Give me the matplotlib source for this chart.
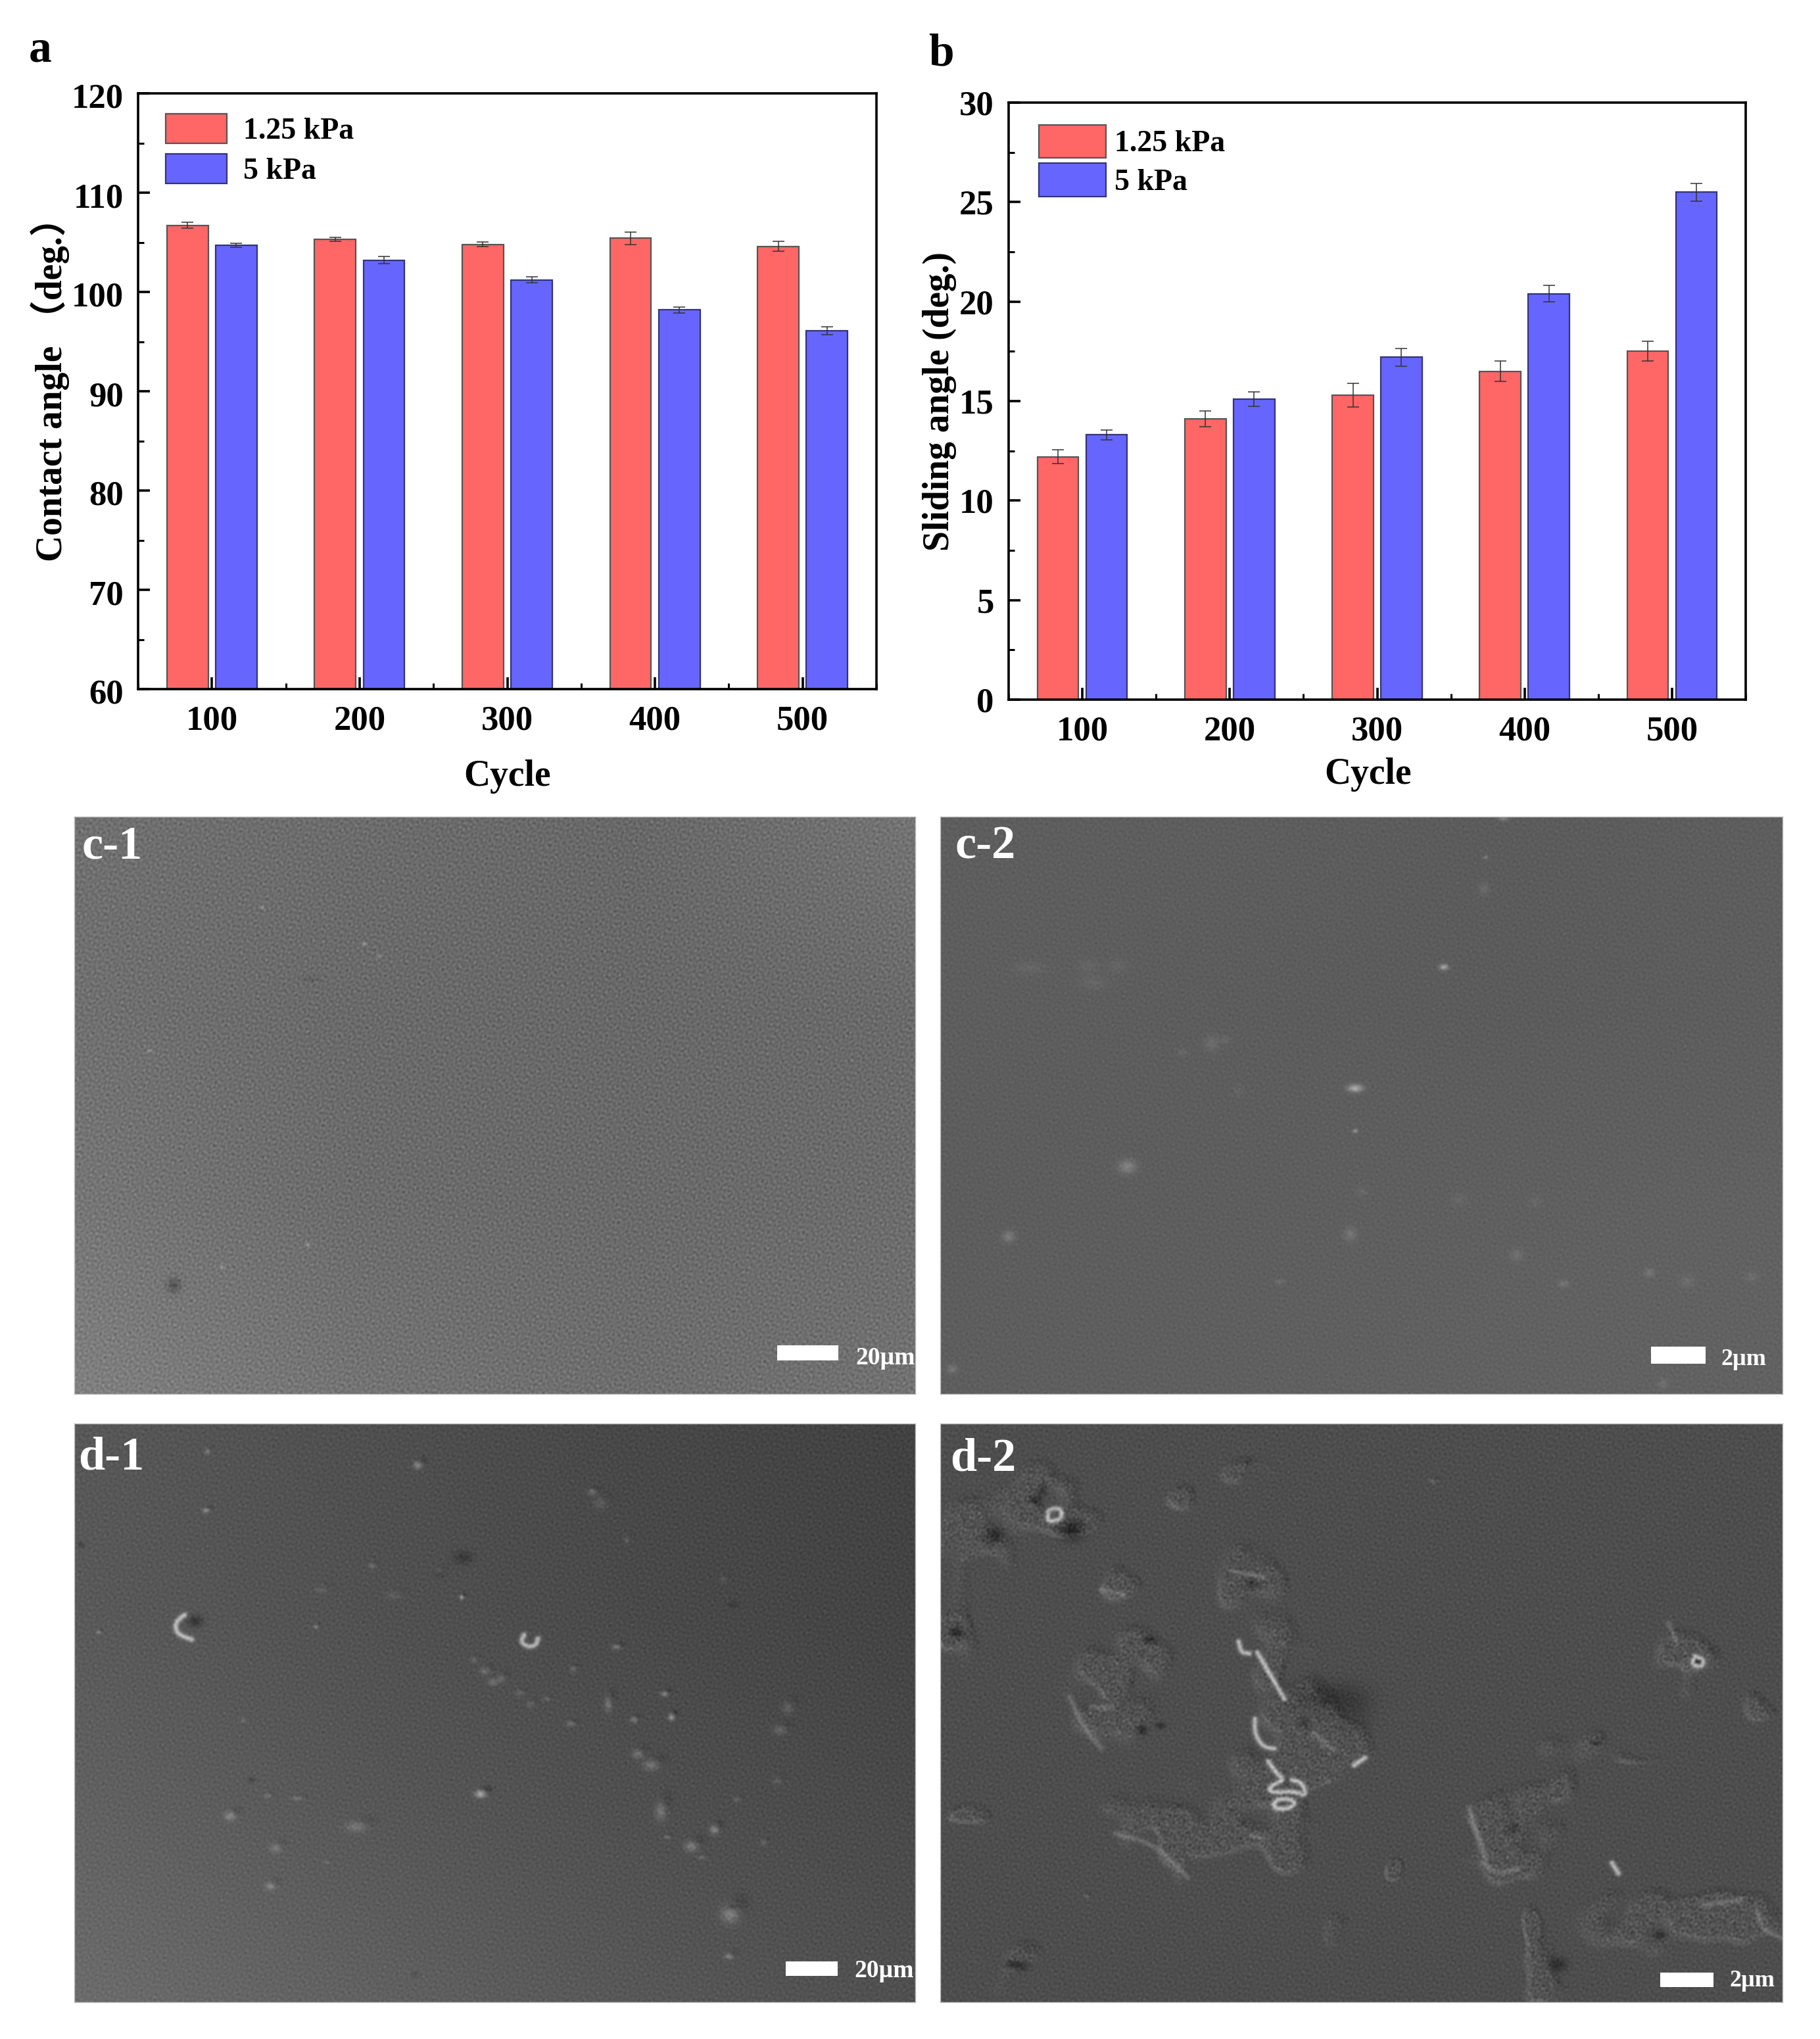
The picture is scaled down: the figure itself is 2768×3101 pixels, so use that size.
import numpy as np
import matplotlib
matplotlib.use("Agg")
import matplotlib.pyplot as plt
from matplotlib.patches import Rectangle
from matplotlib.ticker import MultipleLocator
from matplotlib.transforms import ScaledTranslation

plt.rcParams['font.family'] = ['Liberation Serif', 'Noto Sans CJK SC']
plt.rcParams['font.weight'] = 'bold'

W, H = 2768, 3101

cycles = ['100', '200', '300', '400', '500']
series_names = ['1.25 kPa', '5 kPa']

contact_low = [106.7, 105.3, 104.8, 105.4, 104.6]
contact_low_err = [0.3, 0.2, 0.25, 0.6, 0.5]
contact_high = [104.7, 103.2, 101.2, 98.2, 96.1]
contact_high_err = [0.2, 0.35, 0.3, 0.3, 0.4]

sliding_low = [12.2, 14.1, 15.3, 16.5, 17.5]
sliding_low_err = [0.35, 0.4, 0.6, 0.5, 0.5]
sliding_high = [13.3, 15.1, 17.2, 20.4, 25.5]
sliding_high_err = [0.25, 0.35, 0.45, 0.4, 0.45]

# grey levels of the micrographs, read on a coarse grid (rows top to bottom)
shade_c1 = [[112, 108, 104, 116], [112, 106, 104, 106], [118, 108, 106, 108], [128, 116, 110, 114]]
shade_c2 = [[94, 94, 92, 94], [94, 93, 92, 94], [93, 94, 96, 98], [94, 96, 98, 98]]
shade_d1 = [[88, 80, 72, 66], [90, 82, 74, 68], [98, 88, 80, 74], [108, 98, 88, 80]]
shade_d2 = [[78, 78, 78, 78], [78, 78, 78, 78], [78, 78, 78, 78], [78, 78, 78, 78]]

# soft spots on the micrographs, x, y, sx, sy, brightness, in crop units 0-1568
spots_c1 = [(185, 1272, 9, 14, -34), (540, 345, 3, 3, 50), (568, 378, 3, 3, 35), (435, 1162, 3, 3, 45),
            (440, 440, 12, 5, -12), (140, 635, 3, 3, 35), (275, 1222, 3, 3, 40), (350, 245, 3, 3, 35)]
spots_c2 = [(165, 410, 25, 14, 9), (285, 450, 22, 16, 9), (275, 405, 16, 16, 8), (330, 405, 16, 16, 8),
            (937, 408, 7, 7, 70), (772, 737, 12, 9, 75), (772, 853, 4, 5, 50), (348, 950, 14, 16, 36),
            (127, 1140, 10, 13, 30), (763, 1133, 10, 16, 22), (505, 615, 12, 18, 16), (530, 605, 8, 8, 12),
            (450, 640, 8, 8, 12), (1012, 195, 8, 14, 15), (1015, 110, 4, 4, 35), (1073, 1190, 10, 14, 16),
            (1320, 1238, 8, 10, 22), (1160, 1268, 9, 8, 20), (1390, 1262, 12, 14, 12), (1510, 1250, 10, 12, 12),
            (22, 1500, 8, 10, 25), (632, 1263, 8, 6, 16), (1048, 4, 8, 6, 35), (785, 1018, 9, 10, 10),
            (965, 1040, 12, 14, 8), (1107, 1045, 10, 12, 8), (1345, 1540, 8, 12, 14), (555, 745, 8, 14, 7)]
spots_d1 = [(725, 362, 18, 18, -14), (225, 535, 14, 16, -22), (640, 112, 8, 10, 35), (245, 235, 6, 7, 35),
            (248, 75, 5, 8, 25), (965, 185, 8, 8, 24), (980, 215, 12, 16, 12), (12, 328, 7, 8, -14),
            (680, 405, 10, 10, -12), (722, 470, 4, 6, 50), (555, 385, 6, 8, 18), (450, 550, 5, 6, 25),
            (45, 565, 4, 5, 30), (745, 640, 7, 7, 16), (765, 670, 9, 10, 20), (780, 700, 9, 9, 22), (795, 690, 8, 10, 22),
            (830, 730, 8, 8, 14), (850, 760, 7, 9, 14), (880, 745, 7, 6, 16),
            (995, 760, 7, 20, 24), (1100, 732, 7, 7, 35), (1113, 795, 6, 9, 45), (1043, 802, 7, 8, 28),
            (925, 813, 8, 6, 25), (1315, 830, 12, 12, 18), (1330, 770, 10, 16, 15), (1050, 895, 10, 12, 24), (1075, 925, 14, 14, 24),
            (757, 1003, 10, 10, 55), (1093, 1050, 10, 24, 24), (1150, 1145, 12, 14, 28), (1193, 1100, 8, 12, 34),
            (1105, 1120, 6, 6, 18), (1170, 1175, 8, 6, 16), (1285, 1135, 6, 7, 16), (290, 1063, 10, 12, 28), (525, 1092, 18, 14, 20), (375, 1150, 10, 12, 20),
            (365, 1253, 9, 10, 26), (1222, 1328, 16, 24, 30), (1225, 1310, 10, 8, -16), (1220, 1443, 8, 8, 28),
            (1010, 605, 8, 7, 28), (930, 665, 6, 8, 18), (680, 400, 8, 8, 14), (1030, 315, 5, 10, 14),
            (595, 465, 14, 10, 10), (460, 450, 12, 9, 10), (1210, 422, 7, 9, 10), (1228, 490, 9, 9, -9),
            (415, 1015, 10, 6, 18), (360, 1008, 6, 7, 16), (330, 965, 7, 7, -14), (315, 803, 6, 6, 14),
            (470, 1188, 6, 4, 14), (635, 1492, 6, 8, -10), (1310, 968, 8, 10, 12), (1235, 1018, 6, 7, 16)]
# debris patches of panel d-2, x, y, sx, sy
lumps_d2 = [(170, 170, 70, 60), (60, 300, 70, 90), (240, 260, 45, 35), (320, 430, 40, 40),
            (575, 135, 50, 35), (450, 205, 30, 30), (585, 410, 70, 80), (350, 620, 60, 70),
            (320, 770, 70, 100), (640, 650, 50, 80), (700, 850, 90, 90), (600, 1000, 90, 70),
            (730, 830, 40, 40), (390, 1080, 70, 60), (510, 1120, 80, 40), (650, 1170, 50, 50),
            (440, 1180, 20, 60), (30, 570, 35, 70), (50, 1065, 35, 25), (1390, 630, 50, 80),
            (1530, 765, 30, 35), (1225, 865, 70, 35), (1310, 910, 30, 12), (1130, 990, 30, 50),
            (1060, 1090, 90, 90), (1040, 1190, 40, 35), (1330, 1350, 120, 70), (1500, 1340, 60, 40),
            (1400, 1300, 100, 25), (1130, 1500, 40, 60), (1100, 1370, 12, 60), (130, 1470, 55, 60),
            (740, 1380, 45, 40), (845, 1210, 15, 25), (920, 150, 10, 10), (275, 1280, 10, 10)]
spots_d2 = [(720, 740, 45, 30, -20), (770, 780, 25, 40, -12), (245, 288, 16, 18, -48), (100, 305, 12, 14, -36),
            (30, 565, 10, 10, -42), (388, 585, 7, 7, -36), (375, 830, 7, 9, -36), (410, 818, 6, 6, -32),
            (190, 180, 6, 10, -30), (175, 205, 8, 10, -26), (580, 435, 10, 10, -26), (1150, 1465, 12, 14, -30),
            (130, 1465, 8, 8, -30), (150, 1467, 10, 10, -32), (1340, 1385, 8, 8, -30), (1065, 1095, 8, 10, -26),
            (1410, 645, 5, 5, -40), (680, 810, 8, 8, -20), (1220, 865, 5, 5, -30)]

# bright rims of panels d-1 and d-2, crop units
rims_d1 = [[(205, 518), (192, 532), (187, 552), (195, 572), (218, 584)],
           [(838, 572), (832, 590), (845, 605), (860, 600), (864, 582)]]
rims_d2 = [[(555, 590), (560, 620), (575, 622)], [(590, 620), (610, 670), (630, 720), (640, 745)],
           [(610, 915), (625, 945), (640, 965), (615, 980), (612, 1000), (660, 995), (680, 1010), (675, 975), (655, 965)],
           [(620, 1030), (625, 1045), (655, 1040), (660, 1020), (630, 1015), (620, 1030)],
           [(585, 800), (585, 840), (600, 875), (620, 880)], [(200, 250), (200, 232), (225, 228), (225, 260), (200, 265), (200, 250)],
           [(770, 925), (790, 905)], [(1250, 1190), (1262, 1218)],
           [(1405, 630), (1398, 650), (1415, 660), (1422, 640), (1405, 630)]]
faint_rims_d2 = [[(280, 765), (320, 770)], [(300, 450), (340, 462)], [(1010, 1190), (1040, 1222), (1075, 1205)],
                 [(695, 840), (730, 880)], [(1355, 540), (1370, 590)], [(580, 1115), (600, 1125)],
                 [(545, 400), (600, 415)], [(985, 1040), (1000, 1120), (1015, 1180)], [(1520, 1320), (1530, 1370), (1568, 1395)],
                 [(1420, 1305), (1490, 1290)], [(240, 740), (270, 830), (300, 880)], [(325, 1110), (400, 1140), (460, 1230)]]

red = '#FF6666'
blue = '#6666FF'


def box(left, top, right, bottom):
    return [left / W, 1 - bottom / H, (right - left) / W, (bottom - top) / H]


def bar_panel(fig, rect, low, low_err, high, high_err, ylim, ymajor, ylabel, hh, hw, spacing, textpad, anchor,
              cycle_xy, ylabel_xy, tick_drop):
    ax = fig.add_axes(rect)
    x = np.arange(len(cycles))
    err_style = dict(ecolor='#333333', elinewidth=1.1, capsize=6.5, capthick=1.1)
    ax.bar(x - 0.165, low, 0.28, color=red, edgecolor='#555555', linewidth=1.6, label=series_names[0],
           yerr=low_err, error_kw=err_style)
    ax.bar(x + 0.165, high, 0.28, color=blue, edgecolor='#33337a', linewidth=1.6, label=series_names[1],
           yerr=high_err, error_kw=err_style)
    ax.set_xlim(-0.5, 4.5)
    ax.set_ylim(*ylim)
    ax.set_xticks(x)
    ax.set_xticklabels(cycles)
    ax.xaxis.set_minor_locator(MultipleLocator(0.5))
    ax.yaxis.set_major_locator(MultipleLocator(ymajor))
    ax.yaxis.set_minor_locator(MultipleLocator(ymajor / 2))
    ax.tick_params(which='major', direction='in', length=13, width=2.6, labelsize=38)
    ax.tick_params(which='minor', direction='in', length=6.5, width=2.2)
    ax.tick_params(axis='x', which='major', pad=18)
    ax.tick_params(axis='y', which='major', pad=16)
    drop = ScaledTranslation(0, -tick_drop / 100, fig.dpi_scale_trans)
    for lab in ax.get_yticklabels():
        lab.set_transform(lab.get_transform() + drop)
    for s in ax.spines.values():
        s.set_linewidth(2.6)
    ax.set_xlabel('Cycle', fontsize=40, fontweight='bold', va='center')
    ax.xaxis.set_label_coords(*cycle_xy)
    ax.set_ylabel(ylabel, fontsize=40, fontweight='bold', va='center')
    ax.yaxis.set_label_coords(*ylabel_xy)
    ax.legend(loc='upper left', bbox_to_anchor=anchor, frameon=False, fontsize=33, borderpad=0, borderaxespad=0,
              handlelength=hw, handleheight=hh, labelspacing=spacing, handletextpad=textpad)
    return ax


def wave_field(X, Y, count, f_low, f_high):
    # surface grain: many crossing waves, directions stepped by the golden angle
    out = np.zeros_like(X)
    for k in range(1, count + 1):
        angle = k * 2.39996
        freq = f_low + (f_high - f_low) * ((k * 0.618034) % 1)
        out += np.sin(freq * (np.cos(angle) * X + np.sin(angle) * Y) + k * 1.7)
    return out / np.sqrt(count / 2)


def add_gauss(img, px, py, sx, sy, amp, keep_max=False):
    x0, y0 = px * img.shape[1] / 1568, py * img.shape[0] / 1568
    gx, gy = sx * img.shape[1] / 1568, sy * img.shape[0] / 1568
    i0, i1 = max(int(x0 - 4 * gx), 0), min(int(x0 + 4 * gx) + 2, img.shape[1])
    j0, j1 = max(int(y0 - 4 * gy), 0), min(int(y0 + 4 * gy) + 2, img.shape[0])
    if i0 >= i1 or j0 >= j1:
        return
    yy, xx = np.mgrid[j0:j1, i0:i1]
    g = amp * np.exp(-((xx - x0) / gx) ** 2 / 2 - ((yy - y0) / gy) ** 2 / 2)
    if keep_max:
        img[j0:j1, i0:i1] = np.maximum(img[j0:j1, i0:i1], g)
    else:
        img[j0:j1, i0:i1] += g


def round_corners(pts, passes=3):
    pts = np.array(pts, dtype=float)
    for _ in range(passes):
        q = 0.75 * pts[:-1] + 0.25 * pts[1:]
        r = 0.25 * pts[:-1] + 0.75 * pts[1:]
        mid = np.empty((2 * len(q), 2))
        mid[0::2] = q
        mid[1::2] = r
        pts = np.vstack([pts[:1], mid, pts[-1:]])
    return pts


def rim_glow(img, rims, amp):
    glow = np.zeros_like(img)
    for rim in rims:
        pts = round_corners(rim)
        for a, b in zip(pts[:-1], pts[1:]):
            for t in np.linspace(0, 1, int(np.hypot(*(b - a)) / 3) + 2):
                p = a + t * (b - a)
                add_gauss(glow, p[0], p[1], 3.6, 5.0, amp, keep_max=True)
    return glow


def sem_image(shape_px, shade, spots, spot_scale, rims, grain_amp, lumps=None, emboss=False, spot_gain=1.0, faint_rims=None):
    ny, nx = shape_px
    xx = np.linspace(0, 1568, nx)
    yy = np.linspace(0, 1568, ny)
    shade = np.array(shade, dtype=float)
    grid = np.linspace(0, 1568, shade.shape[0])
    rows = np.array([np.interp(xx, grid, r) for r in shade])
    img = np.array([np.interp(yy, grid, rows[:, j]) for j in range(nx)]).T
    Y, X = np.mgrid[0:ny, 0:nx].astype(float)
    fine = wave_field(X, Y, 24, 0.55, 1.15)
    img = img + grain_amp * fine
    if lumps is not None:
        mask = np.zeros_like(img)
        for lx, ly, sx, sy in lumps:
            add_gauss(mask, lx, ly, sx, sy, 1.0)
        mid = wave_field(X, Y, 18, 0.04, 0.12)
        small = wave_field(X, Y, 20, 0.22, 0.5)
        body = np.clip((mask * (1 + 0.3 * mid) - 0.48) * 1.8, 0, 1)
        body = body * body * (3 - 2 * body)
        ramp_y, ramp_x = np.gradient(body)
        edge = np.clip((ramp_x - ramp_y) * 130, -9, 18)
        img += body * (5 + 3 * small + 3 * fine) + edge * (0.7 + 0.3 * np.abs(small))
    for sx0, sy0, sx, sy, amp in spots:
        add_gauss(img, sx0, sy0, sx * spot_scale, sy * spot_scale, amp * spot_gain)
        if emboss and amp > 0:
            add_gauss(img, sx0 + sx * 1.3, sy0 - sy * 1.3, sx * spot_scale, sy * spot_scale, -amp * 0.4)
    if rims:
        img += rim_glow(img, rims, 100)
    if faint_rims:
        img += rim_glow(img, faint_rims, 28)
    return np.clip(img, 0, 255)


def sem_panel(fig, rect_px, img, label, label_xy, bar, scale_text, scale_xy, scale_size):
    ax = fig.add_axes(box(*rect_px))
    ax.imshow(img, cmap='gray', vmin=0, vmax=255, extent=(0, 1568, 1568, 0), aspect='auto', interpolation='bilinear')
    ax.add_patch(Rectangle((bar[0], bar[1]), bar[2] - bar[0], bar[3] - bar[1], color='white', lw=0))
    ax.text(label_xy[0], label_xy[1], label, color='white', fontsize=52, fontweight='bold', va='center', ha='left')
    ax.text(scale_xy[0], scale_xy[1], scale_text, color='white', fontsize=scale_size, fontweight='bold', va='center', ha='left')
    ax.set_xlim(0, 1568)
    ax.set_ylim(1568, 0)
    ax.set_xticks([])
    ax.set_yticks([])
    for s in ax.spines.values():
        s.set_edgecolor('#bbbbbb')
        s.set_linewidth(1)
    return ax


fig = plt.figure(figsize=(W / 100, H / 100), dpi=100, facecolor='white')

bar_panel(fig, box(210, 142, 1333, 1048), contact_low, contact_low_err, contact_high, contact_high_err,
          (60, 120), 10, 'Contact angle （deg.）', 1.13, 2.03, 0.28, 0.55, (0.037, 0.966),
          (0.5, -0.147), (-0.119, 0.5175), 3.5)
bar_panel(fig, box(1534, 156, 2655, 1064), sliding_low, sliding_low_err, sliding_high, sliding_high_err,
          (0, 30), 5, 'Sliding angle (deg.)', 1.33, 2.22, 0.17, 0.3, (0.041, 0.963),
          (0.4877, -0.125), (-0.094, 0.5), 0)

fig.text(61 / W, 1 - 77 / H, 'a', fontsize=50, fontweight='bold', ha='center', va='center')
fig.text(1431 / W, 1 - 83 / H, 'b', fontsize=50, fontweight='bold', ha='center', va='center')

rect_c1 = (113, 1242, 1392, 2120)
rect_c2 = (1430, 1242, 2711, 2120)
rect_d1 = (113, 2165, 1392, 3045)
rect_d2 = (1430, 2165, 2711, 3045)

img_c1 = sem_image((878, 1279), shade_c1, spots_c1, 1.0, [], 6.0)
img_c2 = sem_image((878, 1281), shade_c2, spots_c2, 0.8, [], 2.5)
img_d1 = sem_image((880, 1279), shade_d1, spots_d1, 0.7, rims_d1, 3.5, emboss=True, spot_gain=1.5)
img_d2 = sem_image((880, 1281), shade_d2, spots_d2, 1.0, rims_d2, 3.5, lumps=lumps_d2, faint_rims=faint_rims_d2)

sem_panel(fig, rect_c1, img_c1, 'c-1', (14, 82), (1310, 1435, 1425, 1477), '20µm', (1457, 1470), 27)
sem_panel(fig, rect_c2, img_c2, 'c-2', (28, 82), (1323, 1440, 1425, 1485), '2µm', (1453, 1475), 26)
sem_panel(fig, rect_d1, img_d1, 'd-1', (8, 92), (1327, 1458, 1423, 1496), '20µm', (1455, 1484), 27)
sem_panel(fig, rect_d2, img_d2, 'd-2', (18, 97), (1340, 1487, 1440, 1527), '2µm', (1470, 1510), 26)

fig.savefig('out.png', dpi=100)
